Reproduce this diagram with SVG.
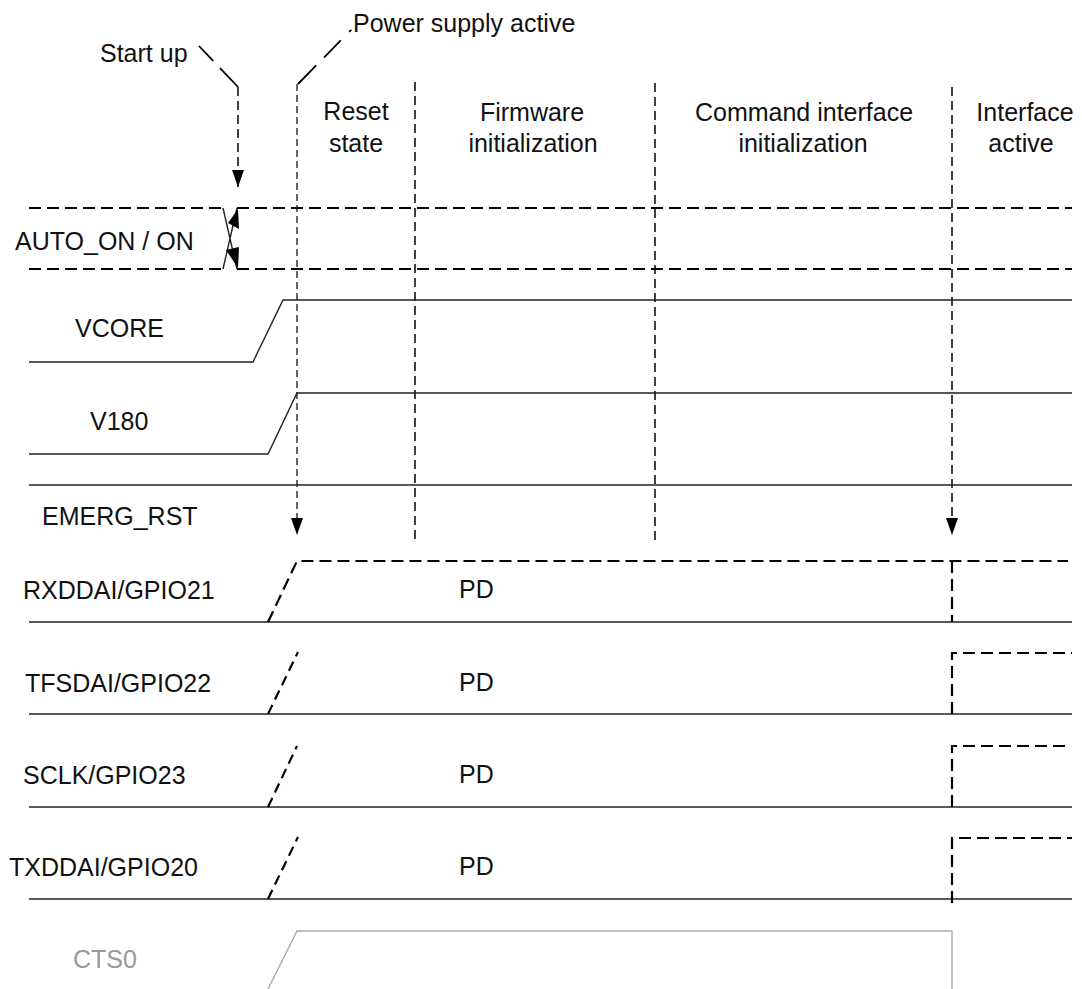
<svg xmlns="http://www.w3.org/2000/svg" width="1082" height="989" viewBox="0 0 1082 989">
<style>
text{font-family:"Liberation Sans",Arial,sans-serif;font-size:25px;fill:#111}
.c{text-anchor:middle}
.gray{fill:#999}
.sig{fill:none;stroke:#222;stroke-width:1.4}
.dsig{fill:none;stroke:#000;stroke-width:2.2;stroke-dasharray:12 6}
.ramp{fill:none;stroke:#000;stroke-width:2.2;stroke-dasharray:10 6}
.phase{fill:none;stroke:#000;stroke-width:1.5;stroke-dasharray:9 5}
.thin{fill:none;stroke:#000;stroke-width:1.2;stroke-dasharray:7 4}
.lead{fill:none;stroke:#000;stroke-width:1.8}
.cts{fill:none;stroke:#aaa;stroke-width:1.4}
</style>
<defs>
<marker id="arr" viewBox="0 0 17 12" refX="17" refY="6" markerWidth="17" markerHeight="12" markerUnits="userSpaceOnUse" orient="auto">
<path d="M0,0 L17,6 L0,12 z" fill="#000"/>
</marker>
</defs>

<g id="labels">
<text x="100" y="62">Start up</text>
<text x="353" y="32">Power supply active</text>
<text x="15" y="250">AUTO_ON / ON</text>
<text x="75" y="337">VCORE</text>
<text x="90" y="430">V180</text>
<text x="42" y="525">EMERG_RST</text>
<text x="23" y="599">RXDDAI/GPIO21</text>
<text x="25" y="692">TFSDAI/GPIO22</text>
<text x="23" y="784">SCLK/GPIO23</text>
<text x="9" y="876">TXDDAI/GPIO20</text>
<text x="73" y="968" class="gray">CTS0</text>
<text x="459" y="598">PD</text>
<text x="459" y="691">PD</text>
<text x="459" y="783">PD</text>
<text x="459" y="875">PD</text>
</g>

<g id="phases">
<text class="c" x="356" y="120">Reset</text>
<text class="c" x="356" y="152">state</text>
<text class="c" x="532" y="121">Firmware</text>
<text class="c" x="533" y="152">initialization</text>
<text class="c" x="804" y="121">Command interface</text>
<text class="c" x="803" y="152">initialization</text>
<text class="c" x="1025" y="121">Interface</text>
<text class="c" x="1021" y="152">active</text>
</g>

<g id="connectors">
<path class="lead" d="M238,87 L199,46" stroke-dasharray="26 10 21"/>
<path class="phase" d="M238,87 L238,187" marker-end="url(#arr)"/>
<path class="lead" d="M298,84 L352,29" stroke-dasharray="26 11 24 12 3"/>
<path class="thin" d="M297,84 L297,535" marker-end="url(#arr)"/>
<path class="phase" d="M415,82 L415,539"/>
<path class="phase" d="M655,83 L655,543"/>
<path class="phase" d="M952,87 L952,535" marker-end="url(#arr)"/>
</g>

<g id="auto_on">
<path class="dsig" d="M29,208 L223,208 M237,208 L1072,208"/>
<path class="dsig" d="M29,269 L223,269 M237,269 L1072,269"/>
<path class="sig" d="M223,208 L237,269 M223,269 L237,208"/>
<polygon points="238,209 228,223 239,229" fill="#000"/>
<polygon points="239,247 226,250 238,268" fill="#000"/>
</g>

<g id="vcore">
<polyline class="sig" points="29,362 253,362 283,300 1072,300"/>
</g>
<g id="v180">
<polyline class="sig" points="29,454 268,454 297,393 1072,393"/>
</g>
<g id="emerg_rst">
<line class="sig" x1="29" y1="485" x2="1072" y2="485"/>
</g>
<g id="rxddai">
<line class="sig" x1="29" y1="622" x2="1072" y2="622"/>
<path class="dsig" d="M268,622 L297,561 L1068,561"/>
<path class="dsig" d="M952,561 L952,622"/>
</g>
<g id="tfsdai">
<line class="sig" x1="29" y1="714" x2="1072" y2="714"/>
<path class="ramp" d="M268,714 L298,652"/>
<path class="dsig" d="M952,714 L952,653 L1072,653"/>
</g>
<g id="sclk">
<line class="sig" x1="29" y1="807" x2="1072" y2="807"/>
<path class="ramp" d="M268,807 L297,746"/>
<path class="dsig" d="M952,807 L952,746 L1068,746"/>
</g>
<g id="txddai">
<line class="sig" x1="29" y1="899" x2="1072" y2="899"/>
<path class="ramp" d="M268,899 L298,837"/>
<path class="dsig" d="M952,903 L952,838 L1072,838"/>
</g>
<g id="cts0">
<polyline class="cts" points="268,989 297,931 952,931 952,989"/>
</g>
</svg>
